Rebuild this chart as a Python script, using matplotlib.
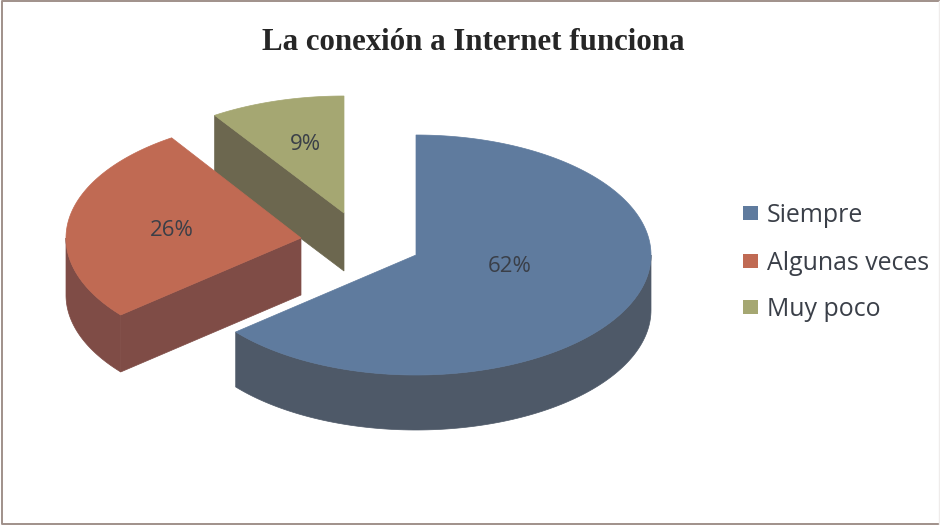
import numpy as np
import matplotlib
matplotlib.use("Agg")
import matplotlib.pyplot as plt
from matplotlib.patches import Polygon, Rectangle

title = "La conexión a Internet funciona"
categories = ["Siempre", "Algunas veces", "Muy poco"]
values = [62, 26, 9]
labels = ["62%", "26%", "9%"]

top_colors = ["#5F7B9E", "#C06A53", "#A5A772"]
side_colors = ["#4E5968", "#7F4C46", "#6C674F"]
centers = [(416, 255), (301, 238), (344, 213)]
radii = [(235, 120), (235, 120), (235, 117)]
depths = [55, 57, 58]
label_pos = [(510, 267), (172, 231), (305, 145)]
legend_y = [213, 261, 306.5]
legend_text_y = [216, 263, 309]

W, H = 940, 525
fig = plt.figure(figsize=(W / 100, H / 100), dpi=100, facecolor="white")
ax = fig.add_axes([0, 0, 1, 1])
ax.set_xlim(0, W)
ax.set_ylim(H, 0)
ax.axis("off")

# frame: strong on the left, top and bottom, faint on the right
ax.plot([W, 2, 2, W], [1, 1, 524, 524], color="#A0908A", lw=1.4, zorder=0)
ax.plot([939, 939], [1, 524], color="#EFECEB", lw=1, zorder=0)

fractions = np.array(values, dtype=float) / sum(values)
edges = np.concatenate([[0], np.cumsum(fractions)]) * 2 * np.pi


def point(i, a, dz=0.0):
    cx, cy = centers[i]
    rx, ry = radii[i]
    return cx + rx * np.sin(a), cy - ry * np.cos(a) + dz


def draw_slice(i, z):
    a0, a1 = edges[i], edges[i + 1]
    depth = depths[i]
    cx, cy = centers[i]
    # outer wall: the part of the rim on the viewer's side
    lo, hi = max(a0, np.pi / 2), min(a1, 3 * np.pi / 2)
    if hi > lo:
        t = np.linspace(lo, hi, 120)
        upper = np.array([point(i, a) for a in t])
        lower = np.array([point(i, a, depth) for a in t[::-1]])
        ax.add_patch(Polygon(np.vstack([upper, lower]), closed=True,
                             fc=side_colors[i], ec=side_colors[i], lw=0.5, zorder=z))
    # cut faces that look toward the viewer
    for a, visible in ((a0, np.pi < a0 < 2 * np.pi), (a1, 0 < a1 < np.pi)):
        if visible:
            p = point(i, a)
            pts = [(cx, cy), p, (p[0], p[1] + depth), (cx, cy + depth)]
            ax.add_patch(Polygon(pts, closed=True, fc=side_colors[i],
                                 ec=side_colors[i], lw=0.5, zorder=z))
    # top face
    t = np.linspace(a0, a1, 200)
    pts = [(cx, cy)] + [point(i, a) for a in t]
    ax.add_patch(Polygon(pts, closed=True, fc=top_colors[i], ec=top_colors[i],
                         lw=0.5, zorder=z + 0.5))


for z, i in enumerate([2, 1, 0], start=1):
    draw_slice(i, z)

for lab, (x, y) in zip(labels, label_pos):
    ax.text(x, y, lab, ha="center", va="center", fontsize=16, family="Open Sans",
            color="#3A3F48", zorder=10)

ax.text(473.5, 43, title, ha="center", va="center", fontsize=22.2, fontweight="bold",
        family="Liberation Serif", color="#262626", zorder=10)

for name, color, y, ty in zip(categories, top_colors, legend_y, legend_text_y):
    ax.add_patch(Rectangle((743, y - 7), 15, 14, fc=color, ec="none", zorder=10))
    ax.text(767, ty, name, ha="left", va="center", fontsize=17.9, family="Open Sans",
            color="#3A3F48", zorder=10)

fig.savefig("out.png", dpi=100, facecolor="white")
